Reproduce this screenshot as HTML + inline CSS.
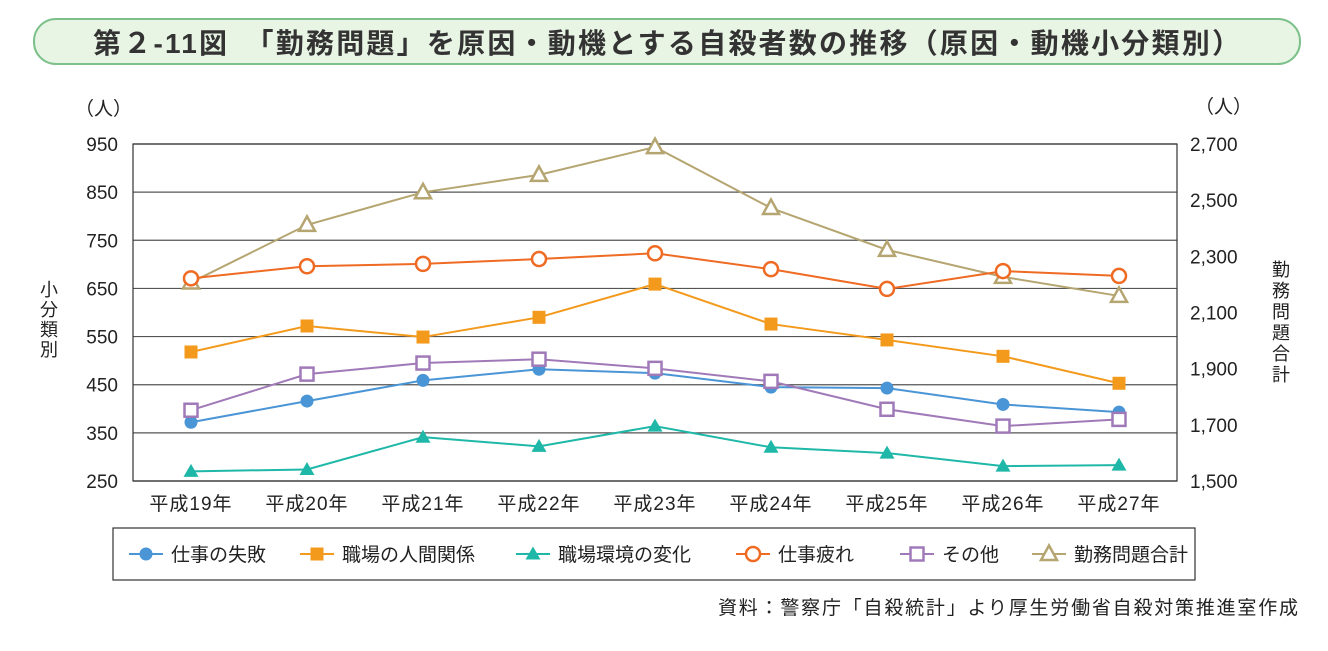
<!DOCTYPE html>
<html><head><meta charset="utf-8">
<style>
body{margin:0;width:1328px;height:646px;background:#fff;font-family:"Liberation Sans","Noto Sans CJK JP",sans-serif;overflow:hidden}
</style></head>
<body>
<svg width="1328" height="646" xmlns="http://www.w3.org/2000/svg" id="chart">
<rect x="34" y="19" width="1266" height="45" rx="22" fill="#e8f5e4" stroke="#7cc08a" stroke-width="2"/>
<text x="93" y="53" textLength="1147" lengthAdjust="spacing" font-size="28" font-weight="bold" fill="#333">第２-11図　「勤務問題」を原因・動機とする自殺者数の推移（原因・動機小分類別）</text>
<g id="plot"></g>
<text x="75" y="115" font-size="19" fill="#222">（人）</text>
<text x="1195" y="113" font-size="19" fill="#222">（人）</text>
<text font-size="18" fill="#222"><tspan x="40" y="296">小</tspan><tspan x="40" y="316">分</tspan><tspan x="40" y="336">類</tspan><tspan x="40" y="356">別</tspan></text>
<text font-size="18" fill="#222"><tspan x="1272" y="276">勤</tspan><tspan x="1272" y="297">務</tspan><tspan x="1272" y="318">問</tspan><tspan x="1272" y="339">題</tspan><tspan x="1272" y="360">合</tspan><tspan x="1272" y="381">計</tspan></text>
<rect x="113" y="528" width="1082" height="52" fill="#fff" stroke="#333" stroke-width="1.2"/>
<g id="legend"></g>
<text x="718" y="614" textLength="580" lengthAdjust="spacing" font-size="19" fill="#222">資料：警察庁「自殺統計」より厚生労働省自殺対策推進室作成</text>
</svg>
<script>
const categories=["平成19年","平成20年","平成21年","平成22年","平成23年","平成24年","平成25年","平成26年","平成27年"];
const leftTicks=[250,350,450,550,650,750,850,950];
const rightTicks=[1500,1700,1900,2100,2300,2500,2700];
const shippai=[372,416,459,482,474,445,443,409,393];
const ningen=[518,572,549,590,659,576,543,509,453];
const kankyo=[270,274,341,322,364,320,308,281,283];
const tsukare=[671,696,701,711,723,690,649,686,676];
const sonota=[397,472,495,503,484,457,399,364,378];
const goukei=[2207,2412,2528,2590,2689,2472,2323,2227,2159];
const seriesNames=["仕事の失敗","職場の人間関係","職場環境の変化","仕事疲れ","その他","勤務問題合計"];

const NS="http://www.w3.org/2000/svg";
const X0=133,X1=1177,Y0=481,Y1=144;
const xs=i=>X0+(X1-X0)/categories.length*(i+0.5);
const yl=v=>Y0-(v-250)/(950-250)*(Y0-Y1);
const yr=v=>Y0-(v-1500)/(2700-1500)*(Y0-Y1);
const plot=document.getElementById('plot');
function mk(tag,attrs,parent){const e=document.createElementNS(NS,tag);for(const k in attrs)e.setAttribute(k,attrs[k]);(parent||plot).appendChild(e);return e;}

leftTicks.forEach(t=>{
 const g=mk('line',{x1:X0,x2:X1,y1:yl(t),y2:yl(t),stroke:t===250?'#333':'#555','stroke-width':1.2});
 
 
 const tx=mk('text',{x:118,y:yl(t)+7,'text-anchor':'end','font-size':19,fill:'#222'});tx.textContent=t;
 
 
});
rightTicks.forEach(t=>{
 const tx=mk('text',{x:1190,y:yr(t)+7,'font-size':19,fill:'#222'});tx.textContent=t.toLocaleString('en-US');
 
 
});
const frame=mk('rect',{x:X0,y:Y1,width:X1-X0,height:Y0-Y1,fill:'none',stroke:'#333','stroke-width':1.2});


categories.forEach((c,i)=>{
 const tx=mk('text',{x:xs(i),y:510,'text-anchor':'middle','font-size':19,fill:'#222','letter-spacing':'1'});tx.textContent=c;
 
 
});

function marker(type,color,x,y,parent){
 let e;
 if(type==='circle')e=mk('circle',{cx:x,cy:y,r:6.5,fill:color},parent);
 else if(type==='square')e=mk('rect',{x:x-6.5,y:y-6.5,width:13,height:13,fill:color},parent);
 else if(type==='tri')e=mk('polygon',{points:`${x},${y-7.5} ${x-7.5},${y+5.5} ${x+7.5},${y+5.5}`,fill:color},parent);
 else if(type==='ocircle')e=mk('circle',{cx:x,cy:y,r:7,fill:'#fff',stroke:color,'stroke-width':2.5},parent);
 else if(type==='osquare')e=mk('rect',{x:x-6.5,y:y-6.5,width:13,height:13,fill:'#fff',stroke:color,'stroke-width':2.5},parent);
 else e=mk('polygon',{points:`${x},${y-8.5} ${x-8},${y+6} ${x+8},${y+6}`,fill:'#fff',stroke:color,'stroke-width':2.5},parent);
 return e;
}
const series=[
 {d:goukei,c:'#b5a570',m:'otri',r:true},
 {d:kankyo,c:'#1fb8a8',m:'tri'},
 {d:shippai,c:'#4a95d6',m:'circle'},
 {d:sonota,c:'#a07ab8',m:'osquare'},
 {d:ningen,c:'#f39a1c',m:'square'},
 {d:tsukare,c:'#ef6a22',m:'ocircle'}
];
series.forEach(s=>{
 const yf=s.r?yr:yl;
 const p=mk('polyline',{points:s.d.map((v,i)=>xs(i)+','+yf(v)).join(' '),fill:'none',stroke:s.c,'stroke-width':2});
 
 
 s.d.forEach((v,i)=>{const m=marker(s.m,s.c,xs(i),yf(v));
  
  });
});
const lg=document.getElementById('legend');
const legSpec=[[129,'#4a95d6','circle'],[300,'#f39a1c','square'],[516,'#1fb8a8','tri'],[736,'#ef6a22','ocircle'],[900,'#a07ab8','osquare'],[1032,'#b5a570','otri']];
legSpec.forEach((L,i)=>{
 const ln=mk('line',{x1:L[0],x2:L[0]+34,y1:554,y2:554,stroke:L[1],'stroke-width':2},lg);
 
 
 const m=marker(L[2],L[1],L[0]+17,554,lg);
 
 
 const t=mk('text',{x:L[0]+42,y:561,'font-size':19,fill:'#222'},lg);t.textContent=seriesNames[i];
 
 
});
</script>
</body></html>
